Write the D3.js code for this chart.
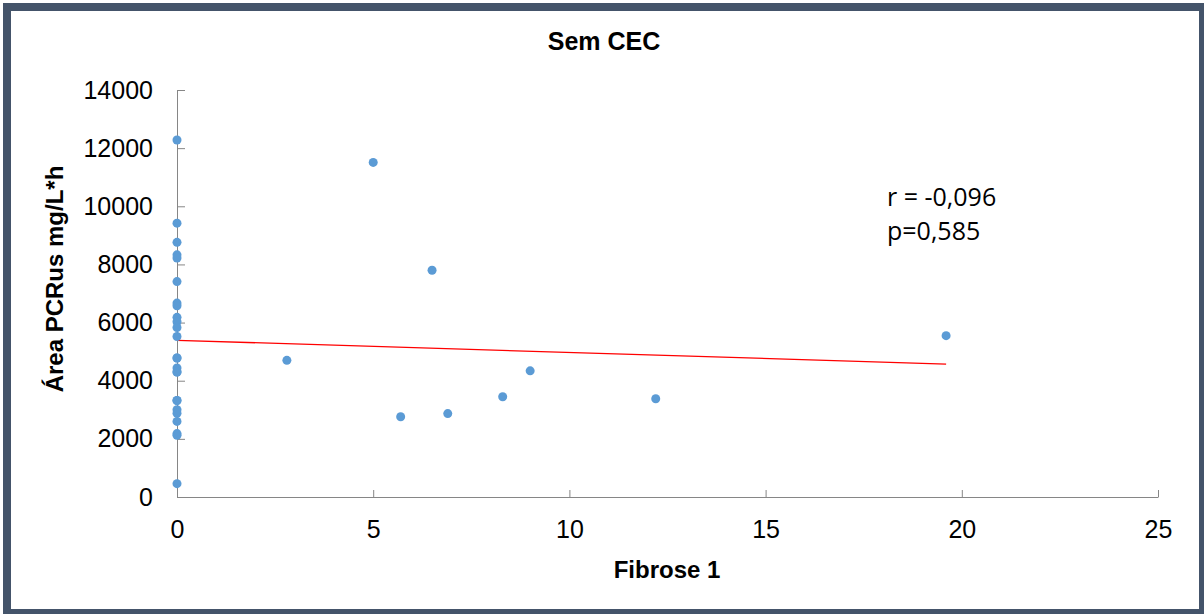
<!DOCTYPE html>
<html>
<head>
<meta charset="utf-8">
<script src="https://cdn.jsdelivr.net/npm/d3@7"></script>
<style>
  body { margin: 0; background: #fff; }
  svg { display: block; }
  .axis path, .axis line { stroke: #868686; }
  .axis text { font-family: "Liberation Sans", Arial, sans-serif; font-size: 25px; fill: #000; }
</style>
</head>
<body>
<div id="chart"></div>
<script>
  // Sem CEC: Fibrose 1 vs Área PCRus (some x=0 points sit on top of each other)
  var fibrose = [0, 0, 0, 0, 0, 0, 0, 0, 0, 0, 0, 0, 0, 0, 0, 0, 0, 0, 0, 0, 0, 0, 0, 0, 0,
                 2.8, 5.0, 5.7, 6.5, 6.9, 8.3, 9.0, 12.2, 19.6];
  var area = [12280, 9420, 8760, 8330, 8220, 7410, 6670, 6580, 6180, 6030, 5830, 5520,
              4780, 4780, 4440, 4300, 4300, 3320, 3320, 3000, 2880, 2600, 2180, 2120, 460,
              4700, 11510, 2760, 7800, 2870, 3450, 4340, 3380, 5550];
  var xTicks = [0, 5, 10, 15, 20, 25];
  var yTicks = [0, 2000, 4000, 6000, 8000, 10000, 12000, 14000];
  var stats = ['r = -0,096', 'p=0,585'];

  var width = 1204, height = 614;
  var svg = d3.select('#chart').append('svg')
      .attr('width', width)
      .attr('height', height);

  svg.append('rect')
      .attr('x', 0).attr('y', 0).attr('width', width).attr('height', height)
      .attr('fill', '#fff');

  // frame
  svg.append('rect')
      .attr('x', 7).attr('y', 7).attr('width', 1196).attr('height', 606)
      .attr('fill', 'none')
      .attr('stroke', '#44546a')
      .attr('stroke-width', 8);

  var x = d3.scaleLinear().domain([0, 25]).range([177, 1158]);
  var y = d3.scaleLinear().domain([0, 14000]).range([497, 90]);

  svg.append('g')
      .attr('class', 'axis')
      .attr('transform', 'translate(0,497)')
      .call(d3.axisBottom(x).tickValues(xTicks).tickFormat(d3.format('d'))
          .tickSizeInner(-7).tickSizeOuter(0).tickPadding(23));

  svg.append('g')
      .attr('class', 'axis')
      .attr('transform', 'translate(177,0)')
      .call(d3.axisLeft(y).tickValues(yTicks).tickFormat(d3.format('d'))
          .tickSizeInner(-8).tickSizeOuter(0).tickPadding(24));

  // linear trend from the points
  var pts = fibrose.map(function (d, i) { return [d, area[i]]; });
  var mx = d3.mean(fibrose), my = d3.mean(area);
  var sxy = d3.sum(pts, function (p) { return (p[0] - mx) * (p[1] - my); });
  var sxx = d3.sum(pts, function (p) { return (p[0] - mx) * (p[0] - mx); });
  var slope = sxy / sxx, icpt = my - slope * mx;
  var xMax = d3.max(fibrose);

  svg.append('line')
      .attr('x1', x(0)).attr('y1', y(icpt))
      .attr('x2', x(xMax)).attr('y2', y(icpt + slope * xMax))
      .attr('stroke', '#ff0000')
      .attr('stroke-width', 1.3);

  svg.append('g').selectAll('circle')
      .data(pts)
      .enter()
      .append('circle')
      .attr('cx', function (d) { return x(d[0]); })
      .attr('cy', function (d) { return y(d[1]); })
      .attr('r', 4.5)
      .attr('fill', '#5b9bd5');

  svg.append('text')
      .attr('x', 604).attr('y', 50)
      .attr('text-anchor', 'middle')
      .style('font-family', '"Liberation Sans", Arial, sans-serif')
      .style('font-weight', 'bold')
      .style('font-size', '25px')
      .text('Sem CEC');

  svg.append('text')
      .attr('transform', 'translate(63,279) rotate(-90)')
      .attr('text-anchor', 'middle')
      .style('font-family', '"Liberation Sans", Arial, sans-serif')
      .style('font-weight', 'bold')
      .style('font-size', '24px')
      .text('Área PCRus mg/L*h');

  svg.append('text')
      .attr('x', 667).attr('y', 578)
      .attr('text-anchor', 'middle')
      .style('font-family', '"Liberation Sans", Arial, sans-serif')
      .style('font-weight', 'bold')
      .style('font-size', '24px')
      .text('Fibrose 1');

  svg.append('g').selectAll('text')
      .data(stats)
      .enter()
      .append('text')
      .attr('x', 887)
      .attr('y', function (d, i) { return 206 + i * 34; })
      .style('font-family', '"Open Sans", sans-serif')
      .style('font-size', '25px')
      .text(function (d) { return d; });
</script>
</body>
</html>
